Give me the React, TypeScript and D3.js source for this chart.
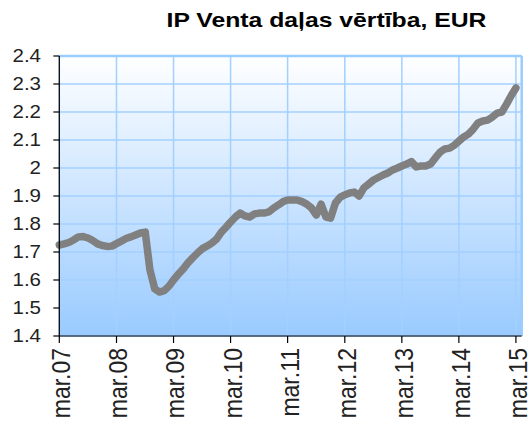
import React from "react";
import * as d3 from "d3";

const title = "IP Venta daļas vērtība, EUR";
const startYear = 2007;
const startMonth = 2; // March
const values = [
  1.725, 1.729, 1.734, 1.743, 1.754, 1.755, 1.75, 1.741, 1.729, 1.723, 1.72, 1.721,
  1.73, 1.739, 1.748, 1.754, 1.761, 1.768, 1.771, 1.636, 1.568, 1.557, 1.562, 1.579,
  1.6, 1.621, 1.639, 1.661, 1.679, 1.696, 1.712, 1.721, 1.732, 1.746, 1.771, 1.789,
  1.807, 1.825, 1.839, 1.829, 1.825, 1.836, 1.839, 1.839, 1.843, 1.857, 1.868, 1.88,
  1.886, 1.886, 1.886, 1.88, 1.871, 1.857, 1.832, 1.871, 1.825, 1.821, 1.875, 1.896,
  1.904, 1.911, 1.914, 1.9, 1.929, 1.943, 1.957, 1.966, 1.975, 1.982, 1.993, 2.0,
  2.007, 2.014, 2.023, 2.004, 2.007, 2.007, 2.014, 2.036, 2.057, 2.068, 2.071, 2.082,
  2.096, 2.111, 2.121, 2.139, 2.161, 2.168, 2.171, 2.182, 2.196, 2.2, 2.229, 2.261,
  2.286,
];
const xTickLabels = ["mar.07", "mar.08", "mar.09", "mar.10", "mar.11", "mar.12", "mar.13", "mar.14", "mar.15"];
const yTicks = [1.4, 1.5, 1.6, 1.7, 1.8, 1.9, 2.0, 2.1, 2.2, 2.3, 2.4];

const W = 528;
const H = 423;
const left = 59.3;
const right = 521.7;
const top = 56;
const bottom = 336;

export default function App() {
  const dates = values.map((_, i) => new Date(startYear, startMonth + i, 1));
  const tickDates = xTickLabels.map((_, i) => new Date(startYear + i, startMonth, 1));
  const x = d3
    .scaleTime()
    .domain([new Date(startYear, startMonth, 1), new Date(2015, 3, 7)])
    .range([left, right]);
  const y = d3.scaleLinear().domain([1.4, 2.4]).range([bottom, top]);
  const line = d3
    .line<number>()
    .x((_, i) => x(dates[i]))
    .y((d) => y(d))
    .curve(d3.curveLinear);

  const fmt = (v: number) => (Math.abs(v - 2) < 1e-9 ? "2" : d3.format(".1f")(v));

  return (
    <svg
      width={W}
      height={H}
      style={{ position: "absolute", left: 0, top: 0, background: "#fff" }}
      fontFamily="Arial, 'Liberation Sans', sans-serif"
    >
      <defs>
        <linearGradient id="bg" x1="0" y1="0" x2="0" y2="1">
          <stop offset="0" stopColor="#ffffff" />
          <stop offset="1" stopColor="#99caff" />
        </linearGradient>
      </defs>
      <text
        transform={`translate(326.5,26.5) scale(1.27,1)`}
        textAnchor="middle"
        fontWeight="bold"
        fontSize={19.5}
        fill="#000"
      >
        {title}
      </text>
      <rect x={left} y={top} width={right - left} height={bottom - top} fill="url(#bg)" />
      {yTicks.map((t) => (
        <line key={"gy" + t} x1={left} x2={right} y1={y(t)} y2={y(t)} stroke="#a3d0ff" strokeWidth={1.5} />
      ))}
      {tickDates.map((d, i) => (
        <line key={"gx" + i} x1={x(d)} x2={x(d)} y1={top} y2={bottom} stroke="#a3d0ff" strokeWidth={1.5} />
      ))}
      <line x1={left} x2={right} y1={top} y2={top} stroke="#99ccff" strokeWidth={2.5} />
      <line x1={right} x2={right} y1={top} y2={bottom} stroke="#99ccff" strokeWidth={2.5} />
      <path d={line(values) || ""} fill="none" stroke="#808080" strokeWidth={7.5} strokeLinejoin="round" strokeLinecap="round" />
      <line x1={left} x2={left} y1={top} y2={bottom} stroke="#000" strokeWidth={1.2} />
      <line x1={left} x2={right} y1={bottom} y2={bottom} stroke="#000" strokeWidth={1.2} />
      {yTicks.map((t) => (
        <g key={"ty" + t}>
          <line x1={left - 6} x2={left} y1={y(t)} y2={y(t)} stroke="#000" strokeWidth={1.2} />
          <text
            transform={`translate(41,${y(t)}) scale(1.16,1)`}
            textAnchor="end"
            dominantBaseline="central"
            fontSize={17.7}
            fill="#222"
          >
            {fmt(t)}
          </text>
        </g>
      ))}
      {tickDates.map((d, i) => (
        <g key={"tx" + i}>
          <line x1={x(d)} x2={x(d)} y1={bottom} y2={bottom + 7} stroke="#000" strokeWidth={1.2} />
          <text
            transform={`translate(${x(d) + 2},348) rotate(-90) scale(1,1.11)`}
            textAnchor="end"
            dominantBaseline="central"
            fontSize={23}
            fill="#222"
          >
            {xTickLabels[i]}
          </text>
        </g>
      ))}
    </svg>
  );
}
